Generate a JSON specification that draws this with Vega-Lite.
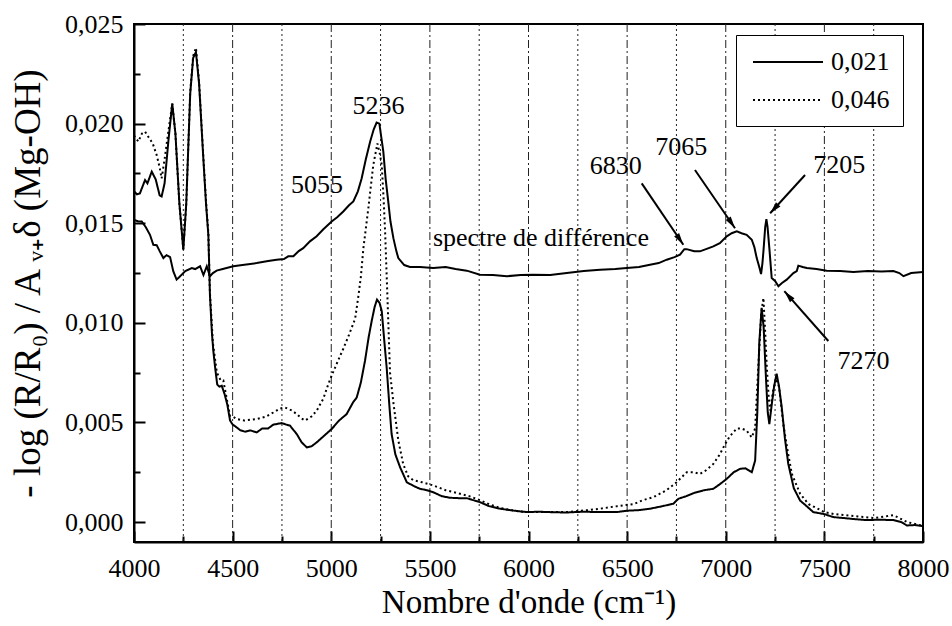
{
  "$schema": "https://vega.github.io/schema/vega-lite/v6.json",
  "autosize": "none",
  "width": 789,
  "height": 518,
  "padding": {"left": 134, "top": 24, "right": 29, "bottom": 84},
  "background": "white",
  "config": {
    "view": {"stroke": "black", "strokeWidth": 2},
    "font": "Liberation Serif",
    "axis": {
      "labelFont": "Liberation Serif",
      "titleFont": "Liberation Serif",
      "labelFontSize": 26,
      "titleFontSize": 33,
      "titleFontWeight": "normal",
      "labelColor": "black",
      "titleColor": "black",
      "domainColor": "black",
      "domainWidth": 2,
      "tickColor": "black",
      "tickWidth": 2,
      "grid": false,
      "labelOverlap": false,
      "labelFlush": false
    }
  },
  "datasets": {
    "spectra": [
      {"w":4000,"a":0.0166,"s":"0,021"},{"w":4015,"a":0.01645,"s":"0,021"},{"w":4030,"a":0.0165,"s":"0,021"},{"w":4056,"a":0.01717,"s":"0,021"},{"w":4068,"a":0.0170,"s":"0,021"},{"w":4090,"a":0.01759,"s":"0,021"},{"w":4110,"a":0.0172,"s":"0,021"},{"w":4130,"a":0.0164,"s":"0,021"},{"w":4140,"a":0.01634,"s":"0,021"},{"w":4155,"a":0.0170,"s":"0,021"},{"w":4175,"a":0.0192,"s":"0,021"},{"w":4194,"a":0.0210,"s":"0,021"},{"w":4210,"a":0.0195,"s":"0,021"},{"w":4230,"a":0.0160,"s":"0,021"},{"w":4250,"a":0.01367,"s":"0,021"},{"w":4265,"a":0.0160,"s":"0,021"},{"w":4285,"a":0.0215,"s":"0,021"},{"w":4300,"a":0.0233,"s":"0,021"},{"w":4314,"a":0.02359,"s":"0,021"},{"w":4330,"a":0.0220,"s":"0,021"},{"w":4350,"a":0.0185,"s":"0,021"},{"w":4365,"a":0.0160,"s":"0,021"},{"w":4377,"a":0.0144,"s":"0,021"},{"w":4385,"a":0.0114,"s":"0,021"},{"w":4395,"a":0.0095,"s":"0,021"},{"w":4402,"a":0.0086,"s":"0,021"},{"w":4412,"a":0.0077,"s":"0,021"},{"w":4422,"a":0.0069,"s":"0,021"},{"w":4433,"a":0.0068,"s":"0,021"},{"w":4445,"a":0.00684,"s":"0,021"},{"w":4460,"a":0.0064,"s":"0,021"},{"w":4473,"a":0.0059,"s":"0,021"},{"w":4487,"a":0.0051,"s":"0,021"},{"w":4500,"a":0.0049,"s":"0,021"},{"w":4521,"a":0.00475,"s":"0,021"},{"w":4540,"a":0.0046,"s":"0,021"},{"w":4563,"a":0.00454,"s":"0,021"},{"w":4590,"a":0.0046,"s":"0,021"},{"w":4622,"a":0.0045,"s":"0,021"},{"w":4650,"a":0.0047,"s":"0,021"},{"w":4680,"a":0.0047,"s":"0,021"},{"w":4706,"a":0.00489,"s":"0,021"},{"w":4749,"a":0.00497,"s":"0,021"},{"w":4770,"a":0.0049,"s":"0,021"},{"w":4791,"a":0.00484,"s":"0,021"},{"w":4810,"a":0.0046,"s":"0,021"},{"w":4825,"a":0.00442,"s":"0,021"},{"w":4850,"a":0.0040,"s":"0,021"},{"w":4876,"a":0.00375,"s":"0,021"},{"w":4900,"a":0.0038,"s":"0,021"},{"w":4926,"a":0.0040,"s":"0,021"},{"w":4960,"a":0.0043,"s":"0,021"},{"w":5002,"a":0.00467,"s":"0,021"},{"w":5040,"a":0.0051,"s":"0,021"},{"w":5078,"a":0.00542,"s":"0,021"},{"w":5110,"a":0.0060,"s":"0,021"},{"w":5129,"a":0.00625,"s":"0,021"},{"w":5150,"a":0.0070,"s":"0,021"},{"w":5171,"a":0.00809,"s":"0,021"},{"w":5190,"a":0.0093,"s":"0,021"},{"w":5205,"a":0.01009,"s":"0,021"},{"w":5220,"a":0.0108,"s":"0,021"},{"w":5232,"a":0.01117,"s":"0,021"},{"w":5245,"a":0.0110,"s":"0,021"},{"w":5256,"a":0.01059,"s":"0,021"},{"w":5268,"a":0.0092,"s":"0,021"},{"w":5281,"a":0.00775,"s":"0,021"},{"w":5295,"a":0.0058,"s":"0,021"},{"w":5306,"a":0.00442,"s":"0,021"},{"w":5325,"a":0.0034,"s":"0,021"},{"w":5349,"a":0.00275,"s":"0,021"},{"w":5383,"a":0.0020,"s":"0,021"},{"w":5420,"a":0.0018,"s":"0,021"},{"w":5450,"a":0.00167,"s":"0,021"},{"w":5485,"a":0.0016,"s":"0,021"},{"w":5517,"a":0.0015,"s":"0,021"},{"w":5560,"a":0.0013,"s":"0,021"},{"w":5602,"a":0.00122,"s":"0,021"},{"w":5650,"a":0.0012,"s":"0,021"},{"w":5687,"a":0.0012,"s":"0,021"},{"w":5720,"a":0.0011,"s":"0,021"},{"w":5754,"a":0.0010,"s":"0,021"},{"w":5800,"a":0.0008,"s":"0,021"},{"w":5856,"a":0.00067,"s":"0,021"},{"w":5920,"a":0.00058,"s":"0,021"},{"w":5991,"a":0.0005,"s":"0,021"},{"w":6050,"a":0.00052,"s":"0,021"},{"w":6109,"a":0.0005,"s":"0,021"},{"w":6190,"a":0.00048,"s":"0,021"},{"w":6278,"a":0.00052,"s":"0,021"},{"w":6363,"a":0.0005,"s":"0,021"},{"w":6447,"a":0.0005,"s":"0,021"},{"w":6498,"a":0.00057,"s":"0,021"},{"w":6560,"a":0.0006,"s":"0,021"},{"w":6616,"a":0.00067,"s":"0,021"},{"w":6680,"a":0.0008,"s":"0,021"},{"w":6734,"a":0.00092,"s":"0,021"},{"w":6760,"a":0.00117,"s":"0,021"},{"w":6800,"a":0.0013,"s":"0,021"},{"w":6836,"a":0.00145,"s":"0,021"},{"w":6890,"a":0.0016,"s":"0,021"},{"w":6937,"a":0.00167,"s":"0,021"},{"w":6970,"a":0.0019,"s":"0,021"},{"w":7005,"a":0.00217,"s":"0,021"},{"w":7040,"a":0.0025,"s":"0,021"},{"w":7072,"a":0.00267,"s":"0,021"},{"w":7100,"a":0.0027,"s":"0,021"},{"w":7132,"a":0.0025,"s":"0,021"},{"w":7149,"a":0.00309,"s":"0,021"},{"w":7160,"a":0.0055,"s":"0,021"},{"w":7170,"a":0.0090,"s":"0,021"},{"w":7182,"a":0.01075,"s":"0,021"},{"w":7192,"a":0.0098,"s":"0,021"},{"w":7204,"a":0.0072,"s":"0,021"},{"w":7213,"a":0.0055,"s":"0,021"},{"w":7221,"a":0.00492,"s":"0,021"},{"w":7232,"a":0.0058,"s":"0,021"},{"w":7245,"a":0.0068,"s":"0,021"},{"w":7258,"a":0.00745,"s":"0,021"},{"w":7270,"a":0.0068,"s":"0,021"},{"w":7284,"a":0.00575,"s":"0,021"},{"w":7300,"a":0.0042,"s":"0,021"},{"w":7317,"a":0.00292,"s":"0,021"},{"w":7345,"a":0.0017,"s":"0,021"},{"w":7377,"a":0.00108,"s":"0,021"},{"w":7410,"a":0.0008,"s":"0,021"},{"w":7444,"a":0.0005,"s":"0,021"},{"w":7500,"a":0.0004,"s":"0,021"},{"w":7545,"a":0.00025,"s":"0,021"},{"w":7600,"a":0.0002,"s":"0,021"},{"w":7650,"a":0.00015,"s":"0,021"},{"w":7714,"a":0.0001,"s":"0,021"},{"w":7780,"a":0.00012,"s":"0,021"},{"w":7850,"a":0.0001,"s":"0,021"},{"w":7890,"a":0.0,"s":"0,021"},{"w":7918,"a":-0.00017,"s":"0,021"},{"w":7960,"a":-0.00015,"s":"0,021"},{"w":8000,"a":-0.0002,"s":"0,021"},
      {"w":4000,"a":0.0194,"s":"0,046"},{"w":4022,"a":0.0191,"s":"0,046"},{"w":4040,"a":0.0195,"s":"0,046"},{"w":4056,"a":0.0196,"s":"0,046"},{"w":4075,"a":0.0193,"s":"0,046"},{"w":4095,"a":0.0190,"s":"0,046"},{"w":4115,"a":0.01842,"s":"0,046"},{"w":4130,"a":0.0178,"s":"0,046"},{"w":4140,"a":0.01725,"s":"0,046"},{"w":4155,"a":0.0182,"s":"0,046"},{"w":4174,"a":0.01959,"s":"0,046"},{"w":4194,"a":0.0210,"s":"0,046"},{"w":4210,"a":0.0195,"s":"0,046"},{"w":4230,"a":0.0160,"s":"0,046"},{"w":4250,"a":0.0137,"s":"0,046"},{"w":4265,"a":0.0160,"s":"0,046"},{"w":4285,"a":0.0216,"s":"0,046"},{"w":4300,"a":0.0234,"s":"0,046"},{"w":4314,"a":0.0238,"s":"0,046"},{"w":4330,"a":0.0221,"s":"0,046"},{"w":4350,"a":0.0186,"s":"0,046"},{"w":4365,"a":0.0161,"s":"0,046"},{"w":4377,"a":0.0145,"s":"0,046"},{"w":4385,"a":0.0115,"s":"0,046"},{"w":4400,"a":0.0090,"s":"0,046"},{"w":4420,"a":0.0075,"s":"0,046"},{"w":4440,"a":0.0071,"s":"0,046"},{"w":4453,"a":0.0071,"s":"0,046"},{"w":4470,"a":0.0062,"s":"0,046"},{"w":4487,"a":0.00534,"s":"0,046"},{"w":4500,"a":0.0053,"s":"0,046"},{"w":4521,"a":0.00517,"s":"0,046"},{"w":4560,"a":0.0051,"s":"0,046"},{"w":4622,"a":0.00517,"s":"0,046"},{"w":4670,"a":0.0053,"s":"0,046"},{"w":4706,"a":0.0055,"s":"0,046"},{"w":4740,"a":0.0057,"s":"0,046"},{"w":4766,"a":0.00575,"s":"0,046"},{"w":4800,"a":0.0056,"s":"0,046"},{"w":4825,"a":0.00542,"s":"0,046"},{"w":4850,"a":0.0052,"s":"0,046"},{"w":4867,"a":0.0051,"s":"0,046"},{"w":4900,"a":0.0053,"s":"0,046"},{"w":4926,"a":0.00559,"s":"0,046"},{"w":4960,"a":0.0062,"s":"0,046"},{"w":4985,"a":0.00692,"s":"0,046"},{"w":5002,"a":0.00735,"s":"0,046"},{"w":5030,"a":0.0080,"s":"0,046"},{"w":5061,"a":0.0087,"s":"0,046"},{"w":5090,"a":0.0094,"s":"0,046"},{"w":5121,"a":0.0102,"s":"0,046"},{"w":5137,"a":0.0113,"s":"0,046"},{"w":5150,"a":0.0123,"s":"0,046"},{"w":5163,"a":0.01375,"s":"0,046"},{"w":5188,"a":0.01575,"s":"0,046"},{"w":5213,"a":0.01792,"s":"0,046"},{"w":5234,"a":0.0190,"s":"0,046"},{"w":5246,"a":0.0185,"s":"0,046"},{"w":5256,"a":0.01792,"s":"0,046"},{"w":5265,"a":0.0163,"s":"0,046"},{"w":5273,"a":0.01459,"s":"0,046"},{"w":5285,"a":0.01125,"s":"0,046"},{"w":5298,"a":0.0075,"s":"0,046"},{"w":5315,"a":0.0060,"s":"0,046"},{"w":5340,"a":0.0041,"s":"0,046"},{"w":5365,"a":0.0029,"s":"0,046"},{"w":5390,"a":0.0023,"s":"0,046"},{"w":5416,"a":0.0021,"s":"0,046"},{"w":5460,"a":0.0020,"s":"0,046"},{"w":5517,"a":0.00184,"s":"0,046"},{"w":5580,"a":0.0016,"s":"0,046"},{"w":5653,"a":0.00142,"s":"0,046"},{"w":5700,"a":0.0013,"s":"0,046"},{"w":5754,"a":0.0011,"s":"0,046"},{"w":5800,"a":0.0009,"s":"0,046"},{"w":5860,"a":0.0007,"s":"0,046"},{"w":5940,"a":0.00055,"s":"0,046"},{"w":6000,"a":0.0005,"s":"0,046"},{"w":6100,"a":0.0005,"s":"0,046"},{"w":6200,"a":0.0005,"s":"0,046"},{"w":6300,"a":0.0006,"s":"0,046"},{"w":6363,"a":0.00067,"s":"0,046"},{"w":6450,"a":0.0008,"s":"0,046"},{"w":6532,"a":0.0009,"s":"0,046"},{"w":6580,"a":0.0011,"s":"0,046"},{"w":6633,"a":0.00125,"s":"0,046"},{"w":6700,"a":0.0016,"s":"0,046"},{"w":6751,"a":0.0020,"s":"0,046"},{"w":6802,"a":0.0025,"s":"0,046"},{"w":6840,"a":0.0025,"s":"0,046"},{"w":6869,"a":0.00242,"s":"0,046"},{"w":6900,"a":0.0026,"s":"0,046"},{"w":6937,"a":0.00292,"s":"0,046"},{"w":6970,"a":0.0034,"s":"0,046"},{"w":6996,"a":0.0039,"s":"0,046"},{"w":7020,"a":0.0043,"s":"0,046"},{"w":7056,"a":0.0047,"s":"0,046"},{"w":7080,"a":0.0047,"s":"0,046"},{"w":7106,"a":0.00459,"s":"0,046"},{"w":7132,"a":0.00425,"s":"0,046"},{"w":7149,"a":0.0047,"s":"0,046"},{"w":7165,"a":0.0078,"s":"0,046"},{"w":7180,"a":0.0105,"s":"0,046"},{"w":7191,"a":0.01125,"s":"0,046"},{"w":7200,"a":0.0095,"s":"0,046"},{"w":7208,"a":0.0078,"s":"0,046"},{"w":7218,"a":0.0062,"s":"0,046"},{"w":7225,"a":0.0056,"s":"0,046"},{"w":7240,"a":0.0066,"s":"0,046"},{"w":7255,"a":0.0072,"s":"0,046"},{"w":7270,"a":0.0068,"s":"0,046"},{"w":7292,"a":0.0049,"s":"0,046"},{"w":7315,"a":0.0035,"s":"0,046"},{"w":7335,"a":0.00242,"s":"0,046"},{"w":7377,"a":0.00142,"s":"0,046"},{"w":7420,"a":0.0009,"s":"0,046"},{"w":7461,"a":0.0007,"s":"0,046"},{"w":7500,"a":0.0005,"s":"0,046"},{"w":7550,"a":0.0004,"s":"0,046"},{"w":7650,"a":0.0003,"s":"0,046"},{"w":7750,"a":0.0002,"s":"0,046"},{"w":7820,"a":0.0003,"s":"0,046"},{"w":7850,"a":0.00035,"s":"0,046"},{"w":7880,"a":0.0002,"s":"0,046"},{"w":7920,"a":0.0,"s":"0,046"},{"w":7960,"a":-0.0001,"s":"0,046"},{"w":8000,"a":-0.0002,"s":"0,046"}
    ],
    "diff": [
      {"w":4000,"a":0.01517},{"w":4020,"a":0.0151},{"w":4039,"a":0.01509},{"w":4060,"a":0.0148},{"w":4081,"a":0.01442},{"w":4098,"a":0.01392},{"w":4115,"a":0.0139},{"w":4130,"a":0.0136},{"w":4149,"a":0.01325},{"w":4165,"a":0.0134},{"w":4183,"a":0.0133},{"w":4199,"a":0.01259},{"w":4216,"a":0.01217},{"w":4230,"a":0.0123},{"w":4242,"a":0.01242},{"w":4260,"a":0.0126},{"w":4293,"a":0.01275},{"w":4310,"a":0.0127},{"w":4335,"a":0.01284},{"w":4352,"a":0.0124},{"w":4369,"a":0.01284},{"w":4385,"a":0.01234},{"w":4400,"a":0.0125},{"w":4419,"a":0.01262},{"w":4450,"a":0.0127},{"w":4503,"a":0.01284},{"w":4550,"a":0.0129},{"w":4622,"a":0.0130},{"w":4680,"a":0.0131},{"w":4723,"a":0.01317},{"w":4760,"a":0.0132},{"w":4782,"a":0.01334},{"w":4808,"a":0.01334},{"w":4835,"a":0.0136},{"w":4858,"a":0.01375},{"w":4892,"a":0.01409},{"w":4926,"a":0.01435},{"w":4960,"a":0.0147},{"w":5002,"a":0.01509},{"w":5030,"a":0.0153},{"w":5061,"a":0.01559},{"w":5090,"a":0.0159},{"w":5112,"a":0.01609},{"w":5135,"a":0.0166},{"w":5154,"a":0.01725},{"w":5175,"a":0.0182},{"w":5197,"a":0.01909},{"w":5215,"a":0.0197},{"w":5230,"a":0.02005},{"w":5244,"a":0.02},{"w":5254,"a":0.0193},{"w":5264,"a":0.01859},{"w":5276,"a":0.0172},{"w":5289,"a":0.01609},{"w":5300,"a":0.0151},{"w":5315,"a":0.01425},{"w":5330,"a":0.0136},{"w":5340,"a":0.01325},{"w":5370,"a":0.0129},{"w":5399,"a":0.0128},{"w":5450,"a":0.0128},{"w":5517,"a":0.01275},{"w":5580,"a":0.0128},{"w":5630,"a":0.0127},{"w":5687,"a":0.01262},{"w":5754,"a":0.01242},{"w":5820,"a":0.0124},{"w":5890,"a":0.01234},{"w":5960,"a":0.0124},{"w":6024,"a":0.01242},{"w":6110,"a":0.0124},{"w":6194,"a":0.0125},{"w":6280,"a":0.0126},{"w":6363,"a":0.01267},{"w":6440,"a":0.0127},{"w":6498,"a":0.01275},{"w":6560,"a":0.0128},{"w":6616,"a":0.01292},{"w":6660,"a":0.0130},{"w":6701,"a":0.01317},{"w":6740,"a":0.0133},{"w":6768,"a":0.01342},{"w":6790,"a":0.0137},{"w":6802,"a":0.0137},{"w":6840,"a":0.01359},{"w":6869,"a":0.01359},{"w":6900,"a":0.0137},{"w":6937,"a":0.01384},{"w":6970,"a":0.0140},{"w":7005,"a":0.01434},{"w":7030,"a":0.0145},{"w":7056,"a":0.01459},{"w":7080,"a":0.0145},{"w":7106,"a":0.01442},{"w":7132,"a":0.01417},{"w":7145,"a":0.0138},{"w":7157,"a":0.01325},{"w":7170,"a":0.0128},{"w":7179,"a":0.01245},{"w":7186,"a":0.0130},{"w":7191,"a":0.01359},{"w":7200,"a":0.0148},{"w":7206,"a":0.0152},{"w":7212,"a":0.0148},{"w":7221,"a":0.01375},{"w":7233,"a":0.01225},{"w":7250,"a":0.0121},{"w":7267,"a":0.01184},{"w":7285,"a":0.0120},{"w":7309,"a":0.01217},{"w":7343,"a":0.0125},{"w":7360,"a":0.0126},{"w":7368,"a":0.01287},{"w":7390,"a":0.0128},{"w":7411,"a":0.01275},{"w":7460,"a":0.0127},{"w":7512,"a":0.01262},{"w":7580,"a":0.0126},{"w":7647,"a":0.01255},{"w":7720,"a":0.0126},{"w":7790,"a":0.01258},{"w":7850,"a":0.0126},{"w":7880,"a":0.0125},{"w":7901,"a":0.01234},{"w":7940,"a":0.0125},{"w":8000,"a":0.01255}
    ],
    "grid": [
      {"w":4250,"k":"dot"},{"w":4500,"k":"dashdot"},{"w":4750,"k":"dot"},{"w":5000,"k":"dashdot"},{"w":5250,"k":"dot"},{"w":5500,"k":"dashdot"},{"w":5750,"k":"dot"},{"w":6000,"k":"dashdot"},{"w":6250,"k":"dot"},{"w":6500,"k":"dashdot"},{"w":6750,"k":"dot"},{"w":7000,"k":"dashdot"},{"w":7250,"k":"dot"},{"w":7500,"k":"dashdot"},{"w":7750,"k":"dot"}
    ],
    "labels": [
      {"w":5240,"a":0.0205,"t":"5236"},
      {"w":4928,"a":0.0165,"t":"5055"},
      {"w":6442,"a":0.01745,"t":"6830"},
      {"w":6774,"a":0.01842,"t":"7065"},
      {"w":7576,"a":0.0175,"t":"7205"},
      {"w":7698,"a":0.00767,"t":"7270"},
      {"w":6063,"a":0.01384,"t":"spectre de différence"}
    ],
    "arrows": [
      {"w":6574,"a":0.0170,"w2":6785,"a2":0.01392},
      {"w":6844,"a":0.01767,"w2":7047,"a2":0.01475},
      {"w":7402,"a":0.01742,"w2":7225,"a2":0.0155},
      {"w":7520,"a":0.00909,"w2":7297,"a2":0.01159}
    ]
  },
  "layer": [
    {
      "data": {"name": "grid"},
      "transform": [{"filter": "datum.k == 'dot'"}],
      "mark": {"type": "rule", "color": "#222", "strokeWidth": 1, "strokeDash": [2, 3]},
      "encoding": {
        "x": {
          "field": "w", "type": "quantitative",
          "scale": {"domain": [4000, 8000], "nice": false, "zero": false},
          "axis": {"orient": "top", "offset": -518, "values": [4250,4750,5250,5750,6250,6750,7250,7750], "labels": false, "domain": false, "ticks": true, "tickSize": 6, "title": null}
        }
      }
    },
    {
      "data": {"name": "grid"},
      "transform": [{"filter": "datum.k == 'dashdot'"}],
      "mark": {"type": "rule", "color": "#222", "strokeWidth": 1, "strokeDash": [8, 3, 2, 3]},
      "encoding": {
        "x": {
          "field": "w", "type": "quantitative",
          "axis": {"orient": "top", "offset": -518, "values": [4000,4500,5000,5500,6000,6500,7000,7500,8000], "labels": false, "domain": false, "ticks": true, "tickSize": 11, "title": null}
        }
      }
    },
    {
      "mark": {"type": "rule", "color": "black", "strokeWidth": 2},
      "encoding": {
        "y": {
          "datum": 0.0125, "type": "quantitative",
          "axis": {"orient": "right", "offset": -789, "values": [0.0025, 0.0075, 0.0125, 0.0175, 0.0225], "labels": false, "domain": false, "ticks": true, "tickSize": 6, "title": null}
        }
      }
    },
    {
      "data": {"name": "diff"},
      "mark": {"type": "line", "color": "black", "strokeWidth": 2, "clip": true},
      "encoding": {
        "x": {"field": "w", "type": "quantitative", "axis": null},
        "y": {
          "field": "a", "type": "quantitative",
          "axis": {"orient": "right", "offset": -789, "values": [0, 0.005, 0.01, 0.015, 0.02, 0.025], "labels": false, "domain": false, "ticks": true, "tickSize": 11, "title": null}
        }
      }
    },
    {
      "data": {"name": "spectra"},
      "mark": {"type": "line", "color": "black", "strokeWidth": 2, "clip": true},
      "encoding": {
        "x": {
          "field": "w", "type": "quantitative",
          "axis": {
            "orient": "bottom",
            "title": "Nombre d'onde (cm⁻¹)",
            "values": [4000,4500,5000,5500,6000,6500,7000,7500,8000],
            "format": "d",
            "ticks": false,
            "labelPadding": 13,
            "titlePadding": 5
          }
        },
        "y": {
          "field": "a", "type": "quantitative",
          "scale": {"domain": [-0.001, 0.025], "nice": false, "zero": false},
          "axis": {
            "orient": "left",
            "title": "- log (R/R₀) / A ᵥ₊δ (Mg-OH)",
            "titleFontSize": 37,
            "values": [0, 0.005, 0.01, 0.015, 0.02, 0.025],
            "labelExpr": "replace(format(datum.value, '.3f'), '.', ',')",
            "ticks": false,
            "labelPadding": 11,
            "titlePadding": 17
          }
        },
        "strokeDash": {
          "field": "s", "type": "nominal",
          "scale": {"domain": ["0,021", "0,046"], "range": [[1, 0], [2, 3]]},
          "legend": {
            "title": null,
            "orient": "none",
            "legendX": 602,
            "legendY": 11,
            "strokeColor": "black",
            "fillColor": "white",
            "padding": 13,
            "rowPadding": 11,
            "labelFont": "Liberation Serif",
            "labelFontSize": 26,
            "labelColor": "black",
            "labelOffset": 54,
            "symbolType": "M-0.769,0L4.615,0",
            "symbolSize": 676,
            "symbolStrokeWidth": 2,
            "symbolStrokeColor": "black",
            "symbolFillColor": "transparent"
          }
        }
      }
    },
    {
      "data": {"name": "labels"},
      "mark": {"type": "text", "font": "Liberation Serif", "fontSize": 26, "align": "center", "baseline": "alphabetic", "color": "black"},
      "encoding": {
        "x": {"field": "w", "type": "quantitative", "axis": null},
        "y": {"field": "a", "type": "quantitative", "axis": null},
        "text": {"field": "t"}
      }
    },
    {
      "data": {"name": "arrows"},
      "mark": {"type": "rule", "color": "black", "strokeWidth": 2},
      "encoding": {
        "x": {"field": "w", "type": "quantitative", "axis": null},
        "y": {"field": "a", "type": "quantitative", "axis": null},
        "x2": {"field": "w2"},
        "y2": {"field": "a2"}
      }
    },
    {
      "data": {"name": "arrows"},
      "transform": [{"calculate": "(atan2((datum.w2 - datum.w) * 0.19725, (datum.a2 - datum.a) * 20000) * 180 / PI + 360) % 360", "as": "ang"}],
      "mark": {"type": "point", "shape": "M0,0L-0.5,2L0.5,2Z", "filled": true, "color": "black", "size": 144, "opacity": 1},
      "encoding": {
        "x": {"field": "w2", "type": "quantitative", "axis": null},
        "y": {"field": "a2", "type": "quantitative", "axis": null},
        "angle": {"field": "ang", "type": "quantitative", "scale": null}
      }
    }
  ],
  "resolve": {"scale": {"strokeDash": "independent"}, "axis": {"x": "independent", "y": "independent"}}
}
